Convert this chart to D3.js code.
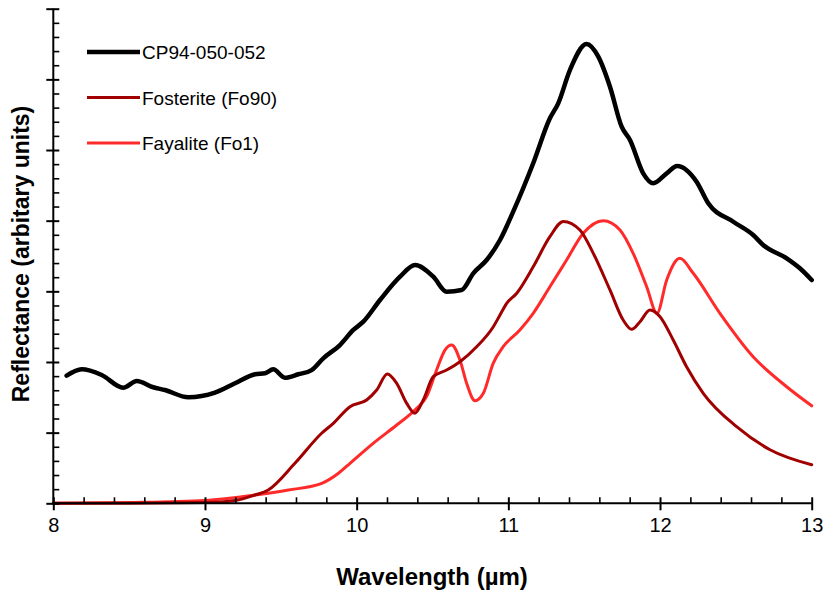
<!DOCTYPE html>
<html>
<head>
<meta charset="utf-8">
<script src="https://cdn.jsdelivr.net/npm/d3@7"></script>
<style>
  body { margin: 0; background: #fff; }
  text { font-family: "Liberation Sans", Arial, sans-serif; }
</style>
</head>
<body>
<script>
// Wavelength (µm), reflectance (arbitrary units)
const sampleData = [
  [8.088, 1.806], [8.187, 1.896], [8.319, 1.816], [8.461, 1.636], [8.550, 1.731],
  [8.659, 1.642], [8.736, 1.603], [8.890, 1.500], [9.066, 1.565], [9.198, 1.698],
  [9.330, 1.826], [9.396, 1.840], [9.450, 1.896], [9.527, 1.778], [9.615, 1.826],
  [9.703, 1.886], [9.780, 2.052], [9.890, 2.240], [9.978, 2.453], [10.044, 2.570],
  [10.154, 2.877], [10.286, 3.207], [10.385, 3.372], [10.505, 3.207], [10.593, 2.995],
  [10.692, 3.019], [10.769, 3.255], [10.857, 3.443], [10.945, 3.726], [11.032, 4.127],
  [11.164, 4.812], [11.274, 5.449], [11.329, 5.661], [11.406, 6.132], [11.516, 6.500],
  [11.593, 6.321], [11.670, 5.896], [11.747, 5.330], [11.802, 5.142], [11.889, 4.670],
  [11.955, 4.529], [12.044, 4.670], [12.113, 4.774], [12.241, 4.551], [12.318, 4.246],
  [12.483, 3.985], [12.614, 3.797], [12.680, 3.656], [12.835, 3.467], [12.922, 3.326],
  [13.0, 3.160]
];

const fosteriteData = [
  [8.0, 0.0], [8.5, 0.0], [9.0, 0.01], [9.2, 0.04], [9.329, 0.117], [9.417, 0.188],
  [9.593, 0.566], [9.769, 0.991], [9.846, 1.132], [9.956, 1.367], [10.066, 1.462],
  [10.132, 1.603], [10.202, 1.830], [10.264, 1.698], [10.330, 1.415], [10.384, 1.274],
  [10.439, 1.462], [10.505, 1.792], [10.593, 1.886], [10.681, 2.004], [10.791, 2.216],
  [10.901, 2.499], [10.945, 2.665], [10.989, 2.830], [11.054, 2.970], [11.164, 3.348],
  [11.274, 3.773], [11.362, 3.990], [11.472, 3.868], [11.560, 3.538], [11.670, 3.019],
  [11.757, 2.594], [11.813, 2.462], [11.868, 2.570], [11.934, 2.736], [12.000, 2.641],
  [12.087, 2.311], [12.175, 1.933], [12.285, 1.557], [12.505, 1.084], [12.725, 0.758],
  [13.0, 0.545]
];

const fayaliteData = [
  [8.0, 0.0], [8.5, 0.01], [9.0, 0.04], [9.33, 0.117], [9.55, 0.188], [9.77, 0.283],
  [9.88, 0.425], [9.956, 0.566], [10.109, 0.849], [10.264, 1.108], [10.396, 1.344],
  [10.461, 1.509], [10.527, 1.886], [10.582, 2.169], [10.626, 2.240], [10.681, 2.028],
  [10.725, 1.698], [10.780, 1.452], [10.835, 1.557], [10.900, 1.981], [10.966, 2.216],
  [11.076, 2.453], [11.164, 2.689], [11.274, 3.065], [11.384, 3.443], [11.494, 3.821],
  [11.626, 3.999], [11.736, 3.868], [11.823, 3.538], [11.912, 3.065], [11.980, 2.689],
  [12.044, 3.160], [12.131, 3.467], [12.219, 3.255], [12.395, 2.689], [12.614, 2.075],
  [12.835, 1.650], [13.0, 1.380]
];

const seriesNames = ["CP94-050-052", "Fosterite (Fo90)", "Fayalite (Fo1)"];
const xTicks = [8, 9, 10, 11, 12, 13];

const w = 829;
const h = 595;

const svg = d3.select("body")
  .append("svg")
  .attr("width", w)
  .attr("height", h);

const x = d3.scaleLinear().domain([8, 13]).range([53.3, 811.7]);
const y = d3.scaleLinear().domain([0, 7]).range([503.3, 8.7]);

const series = [
  { name: seriesNames[0], data: sampleData, color: "#000000", width: 4.5 },
  { name: seriesNames[1], data: fosteriteData, color: "#a00000", width: 3 },
  { name: seriesNames[2], data: fayaliteData, color: "#ff2b2b", width: 3 }
];

const line = d3.line()
  .x(d => x(d[0]))
  .y(d => y(d[1]))
  .curve(d3.curveMonotoneX);

// draw red ones first, black on top
[series[2], series[1], series[0]].forEach(s => {
  svg.append("path")
    .datum(s.data)
    .attr("fill", "none")
    .attr("stroke", s.color)
    .attr("stroke-width", s.width)
    .attr("stroke-linejoin", "round")
    .attr("stroke-linecap", "round")
    .attr("d", line);
});

// X axis: major ticks cross the line, minor ticks point inward
const xMinor = d3.range(8, 13.001, 0.2).filter(v => Math.abs(v - Math.round(v)) > 1e-6);

svg.append("g")
  .attr("transform", `translate(0,${y(0)})`)
  .call(d3.axisBottom(x).tickValues(xMinor).tickSize(-6).tickFormat(""))
  .call(g => g.select(".domain").remove())
  .selectAll("line").attr("stroke", "#000").attr("stroke-width", 1.6);

const xAxis = svg.append("g")
  .attr("transform", `translate(0,${y(0)})`)
  .call(d3.axisBottom(x).tickValues(xTicks).tickSize(7).tickPadding(8).tickFormat(d3.format("d")));
xAxis.select(".domain").attr("d", `M${x(8)},0H${x(13)}`).attr("stroke-width", 2);
xAxis.selectAll(".tick line").attr("y1", -6).attr("stroke-width", 2);
xAxis.selectAll("text")
  .attr("font-family", "Liberation Sans, Arial, sans-serif")
  .attr("font-size", 20)
  .attr("fill", "#000");

// Y axis: no labels
const yMajor = d3.range(0, 7.001, 1);
const yMinor = d3.range(0, 7.001, 0.2).filter(v => Math.abs(v - Math.round(v)) > 1e-6);

svg.append("g")
  .attr("transform", `translate(${x(8)},0)`)
  .call(d3.axisLeft(y).tickValues(yMinor).tickSize(-6).tickFormat(""))
  .call(g => g.select(".domain").remove())
  .selectAll("line").attr("stroke", "#000").attr("stroke-width", 1.6);

const yAxis = svg.append("g")
  .attr("transform", `translate(${x(8)},0)`)
  .call(d3.axisLeft(y).tickValues(yMajor).tickSize(7).tickFormat(""));
yAxis.select(".domain").attr("d", `M0,${y(0)}V${y(7)}`).attr("stroke-width", 2);
yAxis.selectAll(".tick line").attr("x1", 6).attr("stroke-width", 2);

// Axis titles
svg.append("text")
  .attr("x", 432)
  .attr("y", 585)
  .attr("text-anchor", "middle")
  .attr("font-size", 24)
  .attr("font-weight", "bold")
  .text("Wavelength (µm)");

svg.append("text")
  .attr("transform", `translate(29,254) rotate(-90)`)
  .attr("text-anchor", "middle")
  .attr("font-size", 23)
  .attr("font-weight", "bold")
  .text("Reflectance (arbitary units)");

// Legend
const legend = svg.append("g").attr("transform", "translate(87,52)");
series.forEach((s, i) => {
  const g = legend.append("g").attr("transform", `translate(0,${i * 45.5})`);
  g.append("line")
    .attr("x1", 0).attr("x2", 53)
    .attr("stroke", s.color)
    .attr("stroke-width", s.width);
  g.append("text")
    .attr("x", 55)
    .attr("y", 7)
    .attr("font-size", 19)
    .attr("fill", "#000")
    .text(s.name);
});
</script>
</body>
</html>
